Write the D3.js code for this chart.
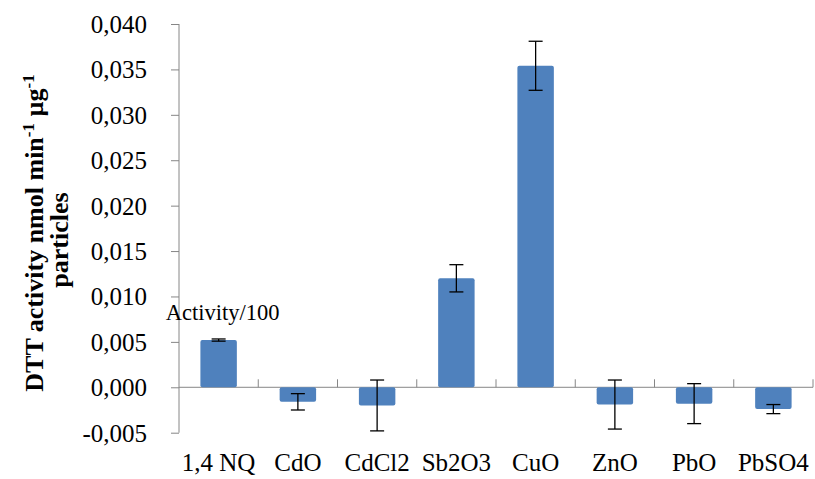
<!DOCTYPE html>
<html><head><meta charset="utf-8">
<script src="https://cdn.jsdelivr.net/npm/d3@7"></script>
<style>body{margin:0;background:#fff}svg{display:block}
svg text{font-family:"Liberation Serif","Times New Roman","DejaVu Serif",serif !important;}
</style>
</head><body>
<script>
const categories = ["1,4 NQ","CdO","CdCl2","Sb2O3","CuO","ZnO","PbO","PbSO4"];
const values = [0.0052,-0.0016,-0.0020,0.0120,0.0354,-0.0019,-0.0018,-0.0024];
const errors = [0.00012,0.0009,0.0028,0.0015,0.0027,0.0027,0.0022,0.0005];
const yTicks = [-0.005,0,0.005,0.010,0.015,0.020,0.025,0.030,0.035,0.040];
const annotation = {category:"1,4 NQ", text:"Activity/100"};

(function(){
const W=815,H=479;
const svg=d3.select("body").append("svg").attr("width",W).attr("height",H);
const mL=179,mR=813,mT=24,mB=432.7;
const y=d3.scaleLinear().domain([-0.005,0.040]).range([mB,mT]);
const x=d3.scaleBand().domain(categories).range([mL,mR]).paddingInner(0.54).paddingOuter(0.27);
const axisColor="#868686";
const fmt=v=>d3.format(".3f")(v).replace("−","-").replace(".",",");

// y axis
const ya=svg.append("g").attr("transform",`translate(${mL},0)`)
  .call(d3.axisLeft(y).tickValues(yTicks).tickSize(8).tickPadding(24).tickFormat(fmt));
ya.attr("font-family",null);
ya.select(".domain").attr("stroke",axisColor).attr("d",`M0,${mB}V${mT}`);
ya.selectAll(".tick line").attr("stroke",axisColor);
ya.selectAll(".tick text").attr("font-size",25).attr("fill","#000").attr("x",-32).attr("dy","0.34em");

// x axis at zero
const y0=y(0);
svg.append("line").attr("x1",mL).attr("x2",mR).attr("y1",y0).attr("y2",y0).attr("stroke",axisColor);
const bandEdges=d3.range(categories.length+1).map(i=>mL+i*(mR-mL)/categories.length);
svg.append("g").selectAll("line").data(bandEdges.slice(1)).join("line")
  .attr("x1",d=>d).attr("x2",d=>d).attr("y1",y0-8).attr("y2",y0).attr("stroke",axisColor);
svg.append("g").selectAll("text").data(categories).join("text")
  .attr("x",d=>x(d)+x.bandwidth()/2).attr("y",471)
  .attr("text-anchor","middle").attr("font-size",25).attr("fill","#000")
  .text(d=>d);

// bars
svg.append("g").selectAll("rect").data(categories).join("rect")
  .attr("x",d=>x(d)).attr("width",x.bandwidth())
  .attr("y",(d,i)=>Math.min(y(values[i]),y0))
  .attr("height",(d,i)=>Math.abs(y(values[i])-y0))
  .attr("rx",2).attr("fill","#4F81BD");

// error bars
const eg=svg.append("g").attr("stroke","#000").attr("stroke-width",1.3);
categories.forEach((c,i)=>{
  const cx=x(c)+x.bandwidth()/2;
  const hi=y(values[i]+errors[i]), lo=y(values[i]-errors[i]);
  eg.append("line").attr("x1",cx).attr("x2",cx).attr("y1",hi).attr("y2",lo);
  eg.append("line").attr("x1",cx-7).attr("x2",cx+7).attr("y1",hi).attr("y2",hi);
  eg.append("line").attr("x1",cx-7).attr("x2",cx+7).attr("y1",lo).attr("y2",lo);
});

// annotation
svg.append("text").attr("x",x(annotation.category)+x.bandwidth()/2+4).attr("y",320)
  .attr("text-anchor","middle").attr("font-size",22.5).attr("fill","#000")
  .text(annotation.text);

// y title
const t=svg.append("text").attr("transform","translate(43,233) rotate(-90)")
  .attr("text-anchor","middle").attr("font-size",26).attr("font-weight","bold").attr("fill","#000");
t.append("tspan").text("DTT activity nmol min");
t.append("tspan").attr("baseline-shift","super").attr("font-size",17).text("-1");
t.append("tspan").text(" µg");
t.append("tspan").attr("baseline-shift","super").attr("font-size",17).text("-1");
svg.append("text").attr("transform","translate(68,240) rotate(-90)")
  .attr("text-anchor","middle").attr("font-size",26).attr("font-weight","bold").attr("fill","#000")
  .text("particles");
})();
</script>
</body></html>
